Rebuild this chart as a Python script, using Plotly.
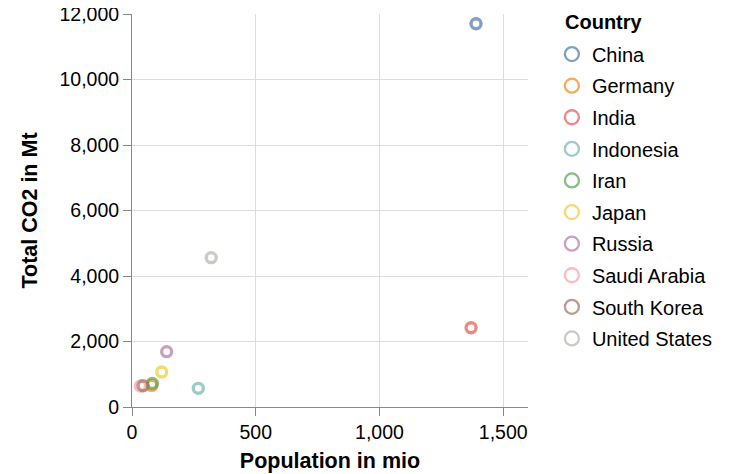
import plotly.graph_objects as go

countries = ["China", "Germany", "India", "Indonesia", "Iran", "Japan",
             "Russia", "Saudi Arabia", "South Korea", "United States"]
population = [1390, 80, 1370, 268, 82, 120, 140, 34, 45, 320]
co2 = [11700, 660, 2420, 570, 720, 1070, 1690, 640, 650, 4560]
colors = ["#4c78a8", "#f58518", "#e45756", "#72b7b2", "#54a24b",
          "#eeca3b", "#b279a2", "#ff9da6", "#9d755d", "#bab0ac"]
x_ticks = [0, 500, 1000, 1500]
y_ticks = [0, 2000, 4000, 6000, 8000, 10000, 12000]

FONT = "Liberation Sans, Arial, Helvetica, sans-serif"

fig = go.Figure()
for c, p, v, col in zip(countries, population, co2, colors):
    fig.add_trace(go.Scatter(
        x=[p], y=[v], mode="markers", name=c, showlegend=False,
        marker=dict(symbol="circle-open", size=10, color=col, opacity=0.7,
                    line=dict(width=3.4, color=col)),
        hovertemplate=f"{c}<br>Population: %{{x}}<br>CO2: %{{y}}<extra></extra>",
    ))
# legend entries
for c, col in zip(countries, colors):
    fig.add_trace(go.Scatter(
        x=[None], y=[None], mode="markers", name=c, legendgroup=c,
        marker=dict(symbol="circle-open", size=14, color=col, opacity=0.7,
                    line=dict(width=2.3, color=col)),
    ))

axis_common = dict(
    showgrid=True, gridcolor="#dddddd", gridwidth=1,
    showline=True, linecolor="#888888", linewidth=1,
    ticks="outside", ticklen=8, tickcolor="#888888", tickwidth=1,
    zeroline=False, tickfont=dict(family=FONT, size=19.5, color="#000"),
    tickformat=",", ticklabeloverflow="allow",
)

fig.update_layout(
    width=734, height=474,
    margin=dict(l=124, r=214, t=6, b=75, autoexpand=False),
    paper_bgcolor="white", plot_bgcolor="white",
    font=dict(family=FONT, color="#000"),
    xaxis=dict(range=[0, 1600], tickvals=x_ticks, **axis_common,
               title=dict(text="<b>Population in mio</b>", standoff=10,
                          font=dict(family=FONT, size=21.5, color="#000"))),
    yaxis=dict(range=[0, 12000], tickvals=y_ticks, **axis_common,
               title=dict(text="<b>Total CO2 in Mt</b>", standoff=15,
                          font=dict(family=FONT, size=21.5, color="#000"))),
    legend=dict(
        xref="container", yref="container", x=0.741, y=0.944,
        xanchor="left", yanchor="top",
        font=dict(family=FONT, size=20, color="#000"),
        tracegroupgap=2.6, itemwidth=30, maxheight=1.0,
    ),
    annotations=[dict(
        text="<b>Country</b>", xref="paper", yref="paper",
        x=(555 - 124) / 396, y=(399 - 14) / 393,
        xanchor="left", yanchor="middle", showarrow=False,
        font=dict(family=FONT, size=20, color="#000"),
    )],
)

fig.write_html("out.html")
